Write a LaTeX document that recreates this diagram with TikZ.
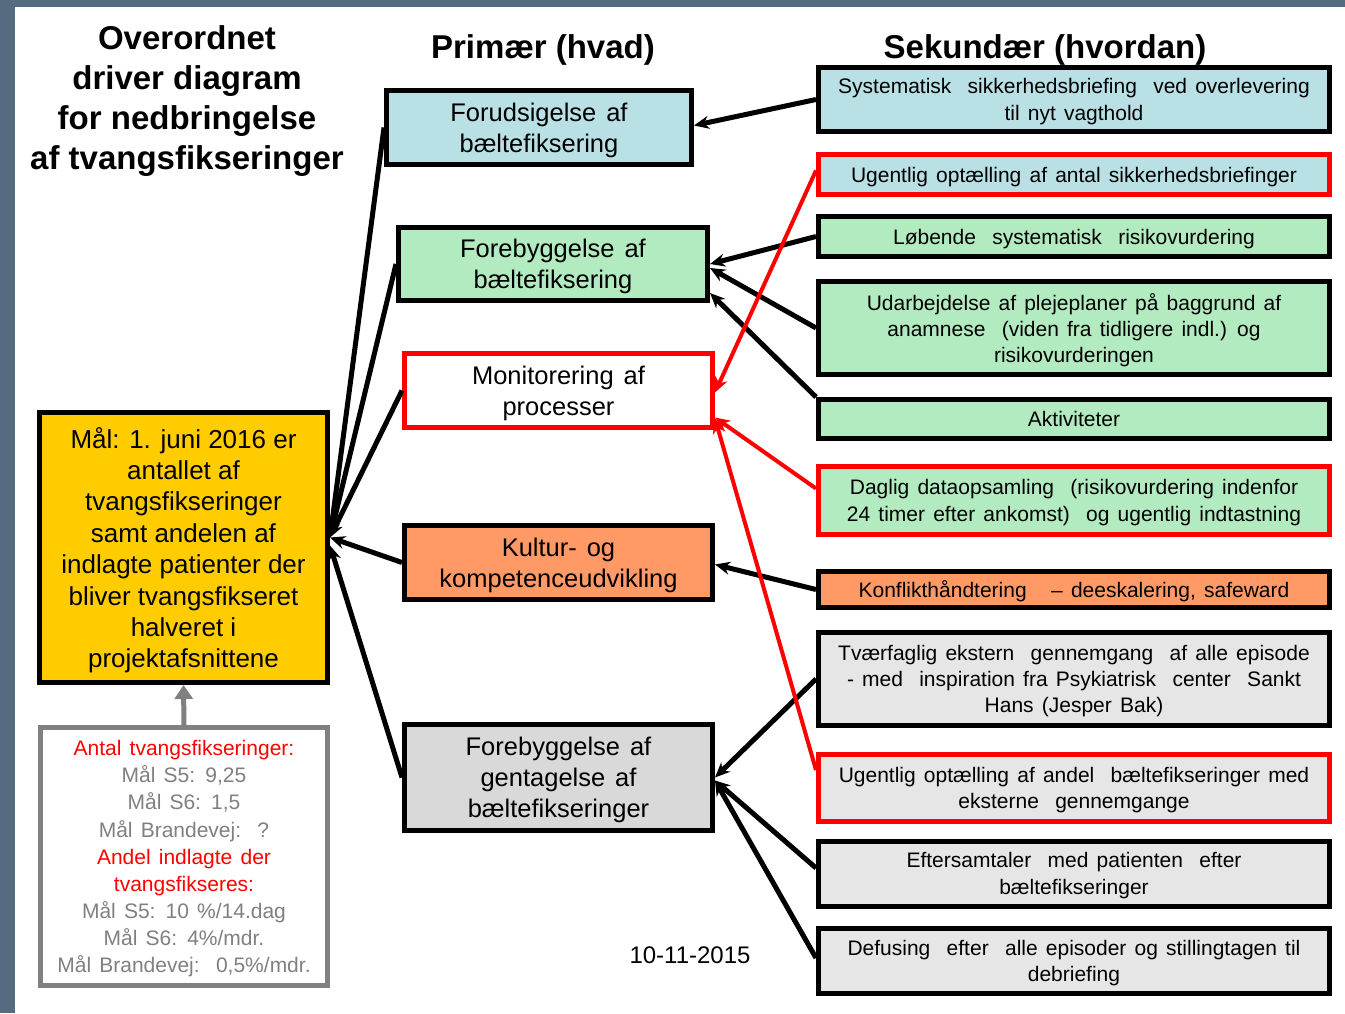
\documentclass[tikz,border=0pt]{standalone}
\usepackage{fontspec}
\setmainfont{Liberation Sans}[WordSpace=1.4]
\newfontfamily\plainsans{Liberation Sans}
\usetikzlibrary{arrows.meta}
\definecolor{bordercol}{HTML}{556B80}
\definecolor{cblue}{HTML}{B9E0E4}
\definecolor{cgreen}{HTML}{B3EBC0}
\definecolor{corange}{HTML}{FF9966}
\definecolor{cgrayA}{HTML}{D9D9D9}
\definecolor{cgrayB}{HTML}{E6E6E6}
\definecolor{cgold}{HTML}{FFCC00}
\definecolor{cmgray}{HTML}{808080}
\begin{document}
\begin{tikzpicture}[x=1pt,y=-1pt,
 box/.style={draw=black, line width=5pt, align=center, inner sep=0pt, anchor=center},
 prim/.style={box, minimum width=308pt, text depth=-2.6pt, font=\fontsize{25.5}{31}\selectfont},
 sec/.style={box, minimum width=511pt, text depth=-3.6pt, font=\fontsize{21}{26.3}\selectfont},
 arr/.style={draw=black, line width=5pt, -{Stealth[length=15pt,width=13pt]}},
 rarr/.style={draw=red, line width=4pt, -{Stealth[length=15pt,width=13pt]}},
 head/.style={font=\plainsans\bfseries\fontsize{33}{40}\selectfont, align=center, inner sep=0pt}
]
\useasboundingbox (0,0) rectangle (1345,1013);
\fill[bordercol] (0,0) rectangle (1345,1013);
\fill[white] (15,7) rectangle (1345,1013);

% headings
\node[head] (title) at (187,101) {Overordnet\\driver diagram\\for nedbringelse\\af tvangsfikseringer};
\node[head] (hprim) at (543,50) {Primær (hvad)};
\node[head] (hsek) at (1045,50) {Sekundær (hvordan)};
\node[font=\fontsize{24}{28}\selectfont, inner sep=0pt] (date) at (690,955) {10-11-2015};

% goal and measures
\node[box, fill=cgold, minimum width=288pt, minimum height=270pt, text depth=-1.5pt, font=\plainsans\fontsize{26}{31.4}\selectfont] (goal) at (183.5,547.5)
 {Mål: 1. juni 2016 er\\antallet af\\tvangsfikseringer\\samt andelen af\\indlagte patienter der\\bliver tvangsfikseret\\halveret i\\projektafsnittene};
\node[box, draw=cmgray, fill=white, text=cmgray, minimum width=287pt, minimum height=258pt, text depth=-15.6pt, font=\fontsize{21}{27.1}\selectfont] (meas) at (184,856.5)
 {\textcolor{red}{Antal tvangsfikseringer:}\\Mål S5: 9,25\\Mål S6: 1,5\\Mål Brandevej:\ \ ?\\\textcolor{red}{Andel indlagte der}\\\textcolor{red}{tvangsfikseres:}\\Mål S5: 10 \%/14.dag\\Mål S6: 4\%/mdr.\\Mål Brandevej:\ \ 0,5\%/mdr.};

% primary drivers
\node[prim, fill=cblue, minimum width=305pt, minimum height=74pt] (p1) at (539,127.5) {Forudsigelse af\\bæltefiksering};
\node[prim, fill=cgreen, minimum width=309pt, minimum height=73pt] (p2) at (553,264) {Forebyggelse af\\bæltefiksering};
\node[prim, draw=red, fill=white, minimum height=74pt, text depth=-9.6pt] (p3) at (558.5,390.5) {Monitorering af\\processer};
\node[prim, fill=corange, minimum height=74pt, text depth=-4.6pt] (p4) at (558.5,562.5) {Kultur- og\\kompetenceudvikling};
\node[prim, fill=cgrayA, minimum height=106pt, text depth=-11.6pt] (p5) at (558.5,777.5) {Forebyggelse af\\gentagelse af\\bæltefikseringer};

% secondary drivers
\node[sec, fill=cblue, minimum height=64pt, text depth=-2.6pt] (s1) at (1074,99.5) {Systematisk\ \ sikkerhedsbriefing\ \ ved overlevering\\til nyt vagthold};
\node[sec, draw=red, fill=cblue, minimum height=40pt] (s2) at (1074,174.5) {Ugentlig optælling af antal sikkerhedsbriefinger};
\node[sec, fill=cgreen, minimum height=40pt] (s3) at (1074,236.5) {Løbende\ \ systematisk\ \ risikovurdering};
\node[sec, fill=cgreen, minimum height=93pt, text depth=-0.6pt] (s4) at (1074,328) {Udarbejdelse af plejeplaner på baggrund af\\anamnese\ \ (viden fra tidligere indl.) og\\risikovurderingen};
\node[sec, fill=cgreen, minimum height=39pt, text depth=-5pt] (s5) at (1074,419) {Aktiviteter};
\node[sec, draw=red, fill=cgreen, minimum height=68pt, text depth=-10.6pt] (s6) at (1074,500.5) {Daglig dataopsamling\ \ (risikovurdering indenfor\\24 timer efter ankomst)\ \ og ugentlig indtastning};
\node[sec, fill=corange, minimum height=36pt, text depth=-1.6pt] (s7) at (1074,589.5) {Konflikthåndtering\ \ \ -- deeskalering, safeward};
\node[sec, fill=cgrayB, minimum height=93pt, text depth=-7.6pt] (s8) at (1074,679) {Tværfaglig ekstern\ \ gennemgang\ \ af alle episode\\- med\ \ inspiration fra Psykiatrisk\ \ center\ \ Sankt\\Hans (Jesper Bak)};
\node[sec, draw=red, fill=cgrayB, minimum height=67pt, text depth=-11.6pt] (s9) at (1074,788) {Ugentlig optælling af andel\ \ bæltefikseringer med\\eksterne\ \ gennemgange};
\node[sec, fill=cgrayB, minimum height=65pt, text depth=1pt] (s10) at (1074,874) {Eftersamtaler\ \ med patienten\ \ efter\\bæltefikseringer};
\node[sec, fill=cgrayB, minimum height=65pt, text depth=-11.6pt] (s11) at (1074,961) {Defusing\ \ efter\ \ alle episoder og stillingtagen til\\debriefing};

% measures -> goal
\draw[draw=cmgray, line width=5pt, -{Triangle[length=14pt,width=18pt]}] (meas.north) -- (goal.south);

% primary -> goal
\draw[arr] (p1.west) -- ([yshift=10pt]goal.east);
\draw[arr] (p2.west) -- ([yshift=10pt]goal.east);
\draw[arr] (p3.west) -- ([yshift=10pt]goal.east);
\draw[arr] (p4.west) -- ([yshift=10pt]goal.east);
\draw[arr] (p5.west) -- ([yshift=2pt]goal.east);

% secondary -> primary
\draw[arr] (s1.west) -- ([yshift=2pt]p1.east);
\draw[arr] (s3.west) -- (p2.east);
\draw[arr] (s4.west) -- ([yshift=-4pt]p2.east);
\draw[arr] (s5.north west) -- ([yshift=-29pt]p2.east);
\draw[arr] (s7.west) -- ([yshift=-2pt]p4.east);
\draw[arr] (s8.west) -- (p5.east);
\draw[arr] ([yshift=6pt]s10.west) -- ([yshift=-3pt]p5.east);
\draw[arr] ([yshift=3pt]s11.west) -- ([yshift=-3pt]p5.east);

% red monitoring connectors
\draw[rarr] ([yshift=4pt]s2.west) -- ([yshift=-2pt]p3.east);
\draw[rarr] ([yshift=12pt]s6.west) -- ([yshift=-27pt]p3.east);
\draw[rarr] ([yshift=18pt]s9.west) -- ([yshift=-28pt]p3.east);
\end{tikzpicture}
\end{document}
